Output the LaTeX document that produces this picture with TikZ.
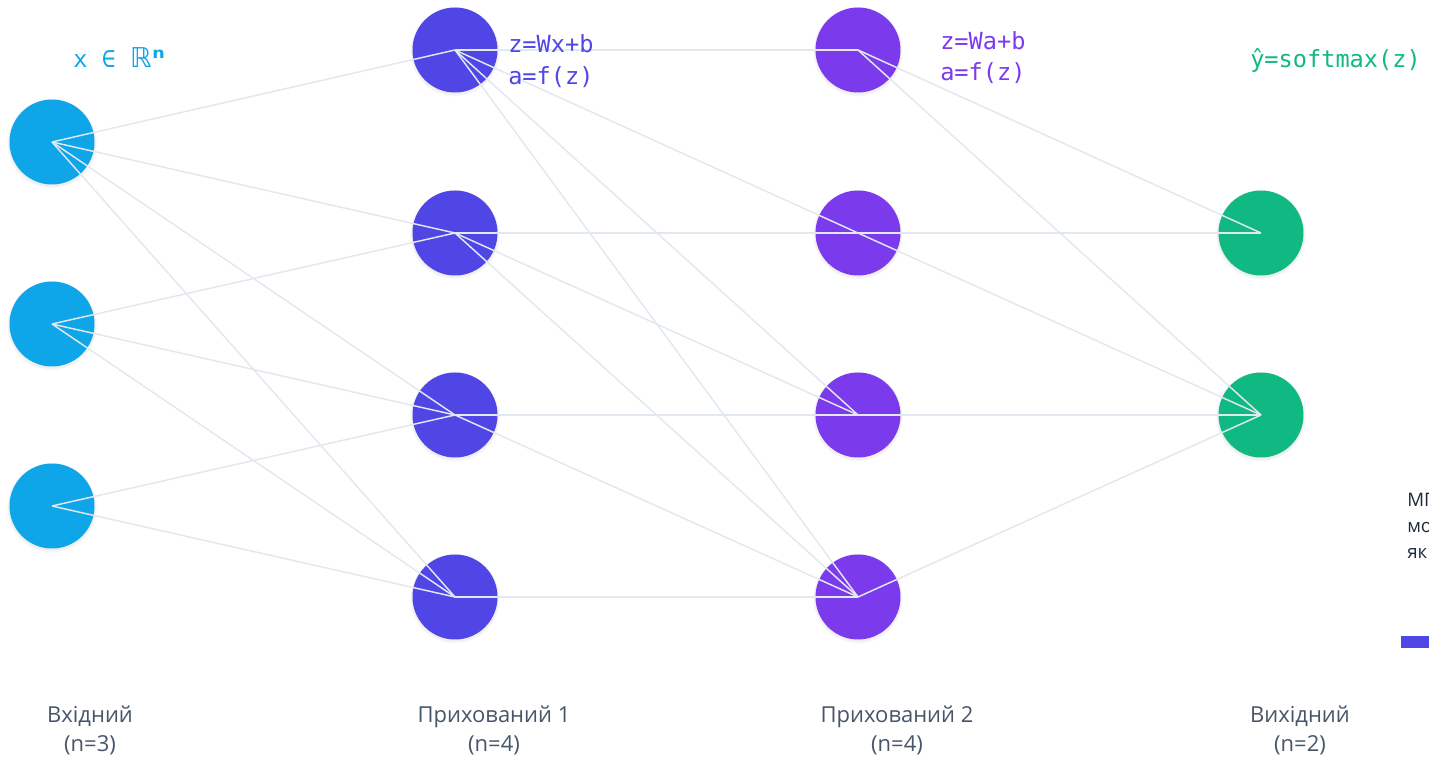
\documentclass[tikz,border=0pt]{standalone}
\usepackage{fontspec}
\setmainfont{Open Sans}
\newfontfamily\codefont{DejaVu Sans Mono}
\newfontfamily\symfont{DejaVu Sans}
\usetikzlibrary{shadows}

\definecolor{inputC}{HTML}{0EA5E9}
\definecolor{hidaC}{HTML}{4F46E5}
\definecolor{hidbC}{HTML}{7C3AED}
\definecolor{outC}{HTML}{10B981}
\definecolor{edgeC}{HTML}{E2E8F0}
\definecolor{labelC}{HTML}{475569}
\definecolor{noteC}{HTML}{1E293B}

\begin{document}
\begin{tikzpicture}[x=0.75pt,y=-0.75pt,
  neuron/.style={circle, minimum size=63.75pt, inner sep=0pt, fill=#1,
    general shadow={shadow scale=1.05, shadow yshift=-1.2pt, fill=black, opacity=0.03},
    general shadow={shadow scale=1.025, shadow yshift=-0.8pt, fill=black, opacity=0.03}},
  link/.style={draw=edgeC, line width=1.1pt},
  formula/.style={anchor=base west, inner sep=0pt,
    font=\codefont\fontsize{17.7}{21}\selectfont, text=#1},
  layername/.style={anchor=base, inner sep=0pt,
    font=\fontsize{16.5}{20}\selectfont, text=labelC},
  note/.style={anchor=base west, inner sep=0pt,
    font=\fontsize{14}{18}\selectfont, text=noteC},
]
\useasboundingbox (0,0) rectangle (1429,762);
\clip (0,0) rectangle (1429,762);

% input layer
\node[neuron=inputC] (i1) at (52,142) {};
\node[neuron=inputC] (i2) at (52,324) {};
\node[neuron=inputC] (i3) at (52,506) {};
% first hidden layer
\node[neuron=hidaC] (a1) at (455,50) {};
\node[neuron=hidaC] (a2) at (455,233) {};
\node[neuron=hidaC] (a3) at (455,415) {};
\node[neuron=hidaC] (a4) at (455,597) {};
% second hidden layer
\node[neuron=hidbC] (b1) at (858,50) {};
\node[neuron=hidbC] (b2) at (858,233) {};
\node[neuron=hidbC] (b3) at (858,415) {};
\node[neuron=hidbC] (b4) at (858,597) {};
% output layer
\node[neuron=outC] (o1) at (1261,233) {};
\node[neuron=outC] (o2) at (1261,415) {};

% weights, drawn centre to centre over the neurons
\foreach \s/\t in {i1/a1,i1/a2,i1/a3,i1/a4,i2/a2,i2/a3,i2/a4,i3/a3,i3/a4,
                   a1/b1,a1/b2,a1/b3,a1/b4,a2/b2,a2/b3,a2/b4,a3/b3,a3/b4,a4/b4,
                   b1/o1,b1/o2,b2/o1,b2/o2,b3/o2,b4/o2}
  \draw[link] (\s.center) -- (\t.center);

% formulas
\node[formula=inputC] (fin) at (73,68)
  {x ∈ {\symfont\fontsize{20.5}{21}\selectfont ℝ\kern0.5pt\bfseries ⁿ}};
\node[formula=hidaC] (fa1) at (508,53) {z=Wx+b};
\node[formula=hidaC] (fa2) at (508,85) {a=f(z)};
\node[formula=hidbC] (fb1) at (940,50) {z=Wa+b};
\node[formula=hidbC] (fb2) at (940,81) {a=f(z)};
\node[formula=outC] (fout) at (1250,68) {ŷ=softmax(z)};

% layer names
\node[layername] (ln1) at (90,723) {Вхідний};
\node[layername] (ln1n) at (90,752) {(n=3)};
\node[layername] (ln2) at (494,723) {Прихований 1};
\node[layername] (ln2n) at (494,752) {(n=4)};
\node[layername] (ln3) at (897,723) {Прихований 2};
\node[layername] (ln3n) at (897,752) {(n=4)};
\node[layername] (ln4) at (1300,723) {Вихідний};
\node[layername] (ln4n) at (1300,752) {(n=2)};

% side note running off the right edge
\node[note] (n1) at (1407,507) {МП};
\node[note] (n2) at (1407,533) {мо};
\node[note] (n3) at (1407,559) {як};
\fill[hidaC] (1401,636) rectangle (1440,648);
\end{tikzpicture}
\end{document}
